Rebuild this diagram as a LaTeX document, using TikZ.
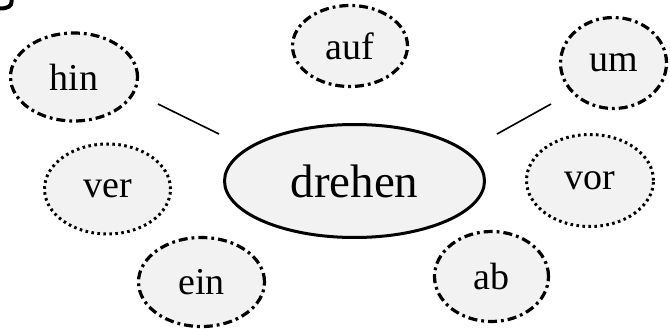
\documentclass[tikz,border=0pt]{standalone}
\usepackage{fontspec}
\setmainfont{Liberation Serif}
\usetikzlibrary{shapes.geometric}
\definecolor{bubble}{HTML}{F2F2F2}
\tikzset{
  bub/.style={ellipse, fill=bubble, draw=black, inner sep=0pt, font=\fontsize{38}{40}\selectfont},
  dashdot/.style={bub, line width=3.2pt, dash pattern=on 9pt off 4pt on 2.8pt off 4pt},
  dotline/.style={bub, line width=3pt, dash pattern=on 2.6pt off 3.4pt},
  mainbub/.style={ellipse, fill=bubble, draw=black, line width=3pt, inner sep=0pt, font=\fontsize{47}{50}\selectfont},
  link/.style={line width=1.6pt}
}
\begin{document}
\begin{tikzpicture}[x=1pt,y=-1pt]
\useasboundingbox (0,0) rectangle (670,329);
% cropped fragment at top-left
\draw[line width=4pt] (11.5,-2) -- (11.5,2) .. controls (11.5,6) and (8,8.5) .. (0,8.5);
\node[mainbub, minimum width=260pt, minimum height=113pt] (dre) at (354.5,181) {drehen};
\node[dashdot, minimum width=127pt, minimum height=88pt] (hin) at (74,77) {hin};
\node[dashdot, minimum width=115pt, minimum height=81pt] (auf) at (350,46) {auf};
\node[dashdot, minimum width=106pt, minimum height=91pt] (um) at (613.5,63) {um};
\node[dotline, minimum width=126pt, minimum height=90pt] (ver) at (107.5,189) {ver};
\node[dotline, minimum width=127pt, minimum height=92pt] (vor) at (590,180.5) {vor};
\node[dashdot, minimum width=126pt, minimum height=89pt] (ein) at (201.5,282) {ein};
\node[dashdot, minimum width=114pt, minimum height=90pt] (ab) at (491.5,276.5) {ab};
\coordinate (hinend) at (158,104);
\coordinate (dreleft) at (219,134);
\coordinate (dreright) at (497,134);
\coordinate (umend) at (551,104);
\draw[link] (hinend) -- (dreleft);
\draw[link] (dreright) -- (umend);
\end{tikzpicture}
\end{document}
